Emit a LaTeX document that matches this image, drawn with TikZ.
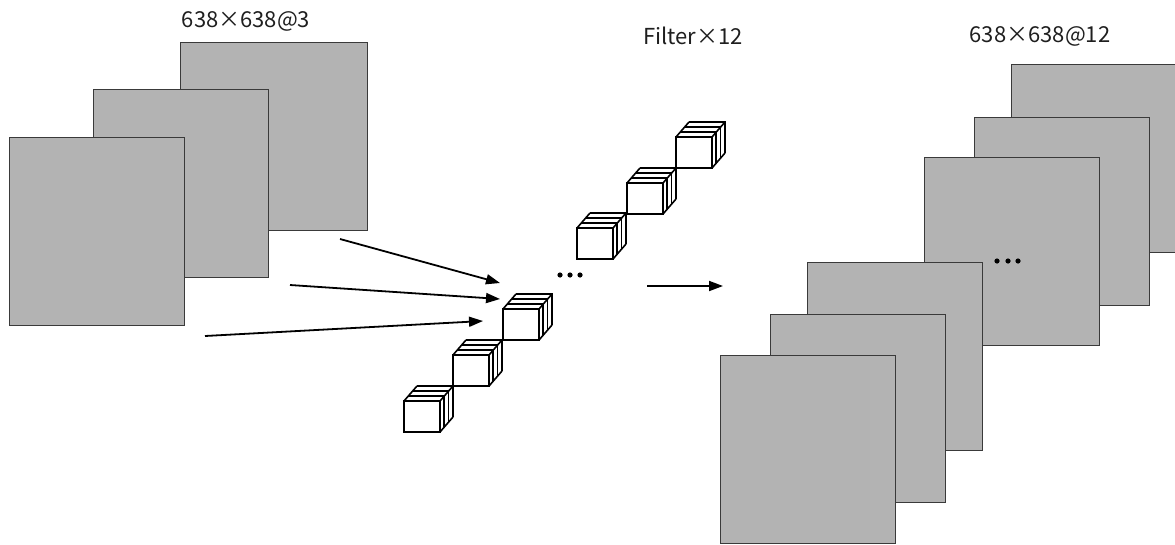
\documentclass[tikz,border=0pt]{standalone}
\usepackage{fontspec}
\setmainfont{Noto Sans CJK SC}
\usetikzlibrary{arrows.meta}
\definecolor{mapgray}{HTML}{B3B3B3}
\definecolor{mapedge}{HTML}{3A3A3A}
\tikzset{
  fmap/.style={draw=mapedge, line width=1pt, fill=mapgray, minimum width=175pt,
    minimum height=188pt, inner sep=0pt, anchor=north west},
  lbl/.style={font=\fontsize{22}{26}\selectfont, text=black!88, inner sep=0pt},
  flow/.style={line width=1.8pt, -{Triangle[length=14pt,width=10pt]}},
  dotmark/.style={fill=black, draw=none},
  % one filter: a small box made of three slices, front face anchored at its lower left corner
  filtercube/.pic={
    \fill[white] (0,0) -- (0,-31) -- (13,-46) -- (49,-46) -- (49,-15) -- (36,0) -- cycle;
    \begin{scope}[line width=1.6pt, line join=miter]
      \draw (0,0) rectangle (36,-31);
      \draw (0,-31) -- (13,-46);
      \draw (36,-31) -- (49,-46);
      \draw (36,0) -- (49,-15);
      \foreach \f in {0.33,0.66,1} {
        \draw (\f*13,-31-\f*15) -- (36+\f*13,-31-\f*15) -- (36+\f*13,-\f*15);
      }
    \end{scope}
  }
}
\begin{document}
\begin{tikzpicture}[x=1pt, y=-1pt]
  \useasboundingbox (0,0) rectangle (1175,544);
  \clip (0,0) rectangle (1175,544);

  % input feature maps
  \node[fmap, minimum width=187pt] (in3) at (180,42) {};
  \node[fmap] (in2) at (93,89) {};
  \node[fmap] (in1) at (9,137) {};
  \node[lbl] (inlabel) at (246,21) {638×638@3};

  % arrows into the filter bank
  \coordinate (s1) at (340,239);  \coordinate (t1) at (500,283);
  \coordinate (s2) at (290,285);  \coordinate (t2) at (500,299);
  \coordinate (s3) at (205,336);  \coordinate (t3) at (483,321);
  \draw[flow] (s1) -- (t1);
  \draw[flow] (s2) -- (t2);
  \draw[flow] (s3) -- (t3);

  % filters
  \pic (fa) at (404,432) {filtercube};
  \pic (fb) at (453,386) {filtercube};
  \pic (fc) at (503,340) {filtercube};
  \pic (fd) at (577,259) {filtercube};
  \pic (fe) at (627,214) {filtercube};
  \pic (ff) at (676,168) {filtercube};
  \node[lbl] (filterlabel) at (693,36) {Filter×12};

  \foreach \x in {560,570,580} \fill[dotmark] (\x,275) circle (2.6pt);

  % arrow to the output
  \coordinate (s4) at (647,286);  \coordinate (t4) at (723,286);
  \draw[flow] (s4) -- (t4);

  % output feature maps
  \node[fmap] (out6) at (1011,64) {};
  \node[fmap] (out5) at (974,117) {};
  \node[fmap] (out4) at (924,157) {};
  \foreach \x in {997,1008,1018} \fill[dotmark] (\x,261) circle (2.6pt);
  \node[fmap] (out3) at (807,262) {};
  \node[fmap] (out2) at (770,314) {};
  \node[fmap] (out1) at (720,355) {};
  \node[lbl] (outlabel) at (1040,36) {638×638@12};
\end{tikzpicture}
\end{document}
